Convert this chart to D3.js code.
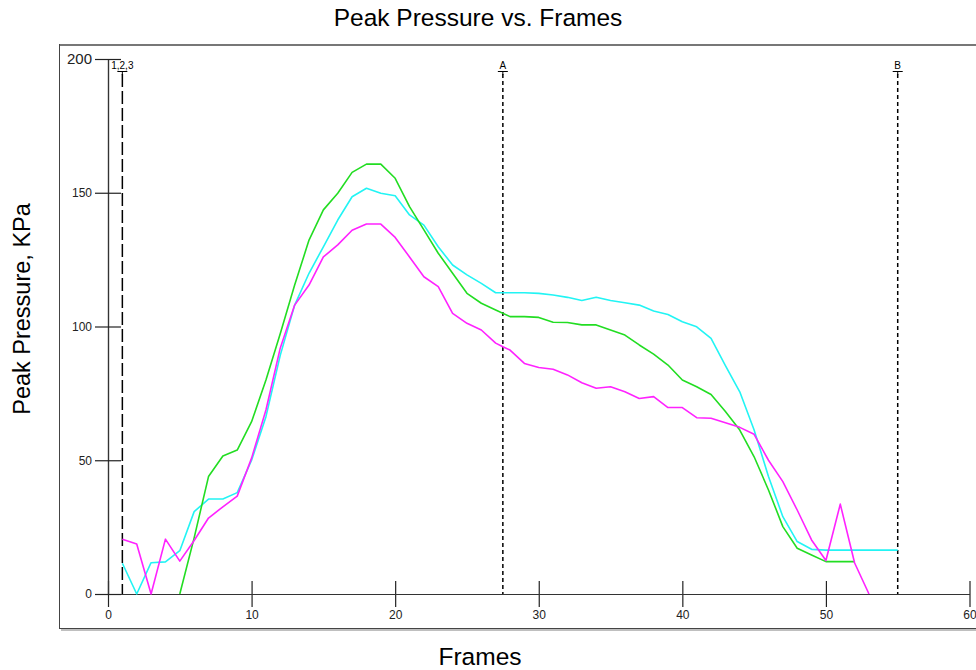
<!DOCTYPE html>
<html>
<head>
<meta charset="utf-8">
<script src="https://cdn.jsdelivr.net/npm/d3@7/dist/d3.min.js"></script>
<style>
  html, body { margin: 0; padding: 0; background: #fff; }
  svg { display: block; font-family: "Liberation Sans", Arial, sans-serif; }
</style>
</head>
<body>
<svg id="chart" width="976" height="670"></svg>
<script>
// ---------- data ----------
const title = "Peak Pressure vs. Frames";
const xLabel = "Frames";
const yLabel = "Peak Pressure, KPa";
const xTicks = [0, 10, 20, 30, 40, 50, 60];
const yTicks = [0, 50, 100, 150, 200];

const magentaFrames = [1,2,3,4,5,6,7,8,9,10,11,12,13,14,15,16,17,18,19,20,21,22,23,24,25,26,27,27.5,28,29,30,31,32,33,34,35,36,37,38,39,40,41,42,43,44,45,46,47,48,49,50,51,52,53];
const magentaValues = [20.5,18.7,0,20.5,12.3,20,28.4,32.6,36.6,50.8,68.8,92,108,115.5,126,130.5,136,138.3,138.3,133.3,126,118.6,114.9,104.9,101.2,98.7,93.8,92.4,91.2,86.2,84.7,84,81.9,79,76.9,77.5,75.6,73.1,73.8,69.7,69.7,65.9,65.7,64,62.3,59.7,50,42,31.4,20.2,12.5,33.6,11.6,0];

const cyanFrames = [1,2,3,4,5,6,7,8,9,10,11,12,13,14,15,16,17,18,19,20,21,22,23,24,25,26,27,28,29,30,31,32,33,34,35,36,37,38,39,40,41,42,43,44,45,46,47,48,49,50,51,52,53,54,55];
const cyanValues = [11.5,0,11.7,12,16.2,30.8,35.5,35.5,37.9,50,66.3,89.3,108,119.9,129.8,139.8,148.5,151.7,149.8,148.9,141.7,137.9,129.8,123,119.3,116.1,112.6,112.6,112.6,112.4,111.8,110.9,109.7,110.9,109.7,108.9,108,105.8,104.5,101.8,99.9,95.6,85.4,75.6,61.3,43.9,28.9,19.6,16.7,16.4,16.4,16.4,16.4,16.4,16.4];

const greenFrames = [5,6,7,8,9,10,11,12,13,14,15,16,17,18,19,20,21,22,23,24,25,26,27,28,29,30,31,32,33,34,35,36,37,38,39,40,41,42,43,44,45,46,47,48,49,50,51,52];
const greenValues = [0,21,43.9,51.6,53.8,64.4,80,97.4,115.5,132.3,143.6,149.8,157.6,160.7,160.7,155.4,144.8,136.1,127.4,119.9,112.4,108.7,106.2,103.7,103.7,103.4,101.6,101.5,100.6,100.6,98.7,96.8,93.1,89.7,85.6,80,77.5,74.6,68.2,61.3,51.3,38.9,25.2,17.1,14.6,12.1,12.1,12.1];

const markerNames = ["1,2,3", "A", "B"];
const markerFrames = [1, 27.5, 55];
const markerDash = ["13,4", "4,3", "4,3"];

const seriesNames = ["Cyan", "Green", "Magenta"];
const seriesColors = ["#22f4f4", "#22dd22", "#ff22ff"];

// ---------- setup ----------
const svg = d3.select("#chart");
const x = d3.scaleLinear().domain([0, 60]).range([108, 969.5]);
const y = d3.scaleLinear().domain([0, 200]).range([594, 59]);

// frame
svg.append("line").attr("x1", 59).attr("x2", 976).attr("y1", 45).attr("y2", 45)
  .attr("stroke", "#777").attr("stroke-width", 2);
svg.append("line").attr("x1", 59.5).attr("x2", 59.5).attr("y1", 44).attr("y2", 628.5)
  .attr("stroke", "#444").attr("stroke-width", 1);
svg.append("line").attr("x1", 59).attr("x2", 976).attr("y1", 628.5).attr("y2", 628.5)
  .attr("stroke", "#444").attr("stroke-width", 1);
svg.append("line").attr("x1", 61).attr("x2", 976).attr("y1", 630).attr("y2", 630)
  .attr("stroke", "#aaa").attr("stroke-width", 1.5);

// title & labels
svg.append("text").attr("x", 478).attr("y", 26).attr("text-anchor", "middle")
  .attr("font-size", 24.5).attr("fill", "#000").text(title);
svg.append("text").attr("x", 480).attr("y", 665).attr("text-anchor", "middle")
  .attr("font-size", 24.5).attr("fill", "#000").text(xLabel);
svg.append("text").attr("transform", "translate(30,309) rotate(-90)").attr("text-anchor", "middle")
  .attr("font-size", 23.5).attr("fill", "#000").text(yLabel);

// x axis (crossing ticks)
const gx = svg.append("g").attr("transform", `translate(0,${y(0)})`)
  .call(d3.axisBottom(x).tickValues(xTicks).tickFormat(d3.format("d")).tickSizeOuter(0).tickSizeInner(13).tickPadding(3));
svg.append("g").attr("transform", `translate(0,${y(0)})`)
  .call(d3.axisTop(x).tickValues(xTicks).tickFormat("").tickSizeOuter(0).tickSizeInner(13));

// y axis (crossing ticks)
const gy = svg.append("g").attr("transform", `translate(${x(0)},0)`)
  .call(d3.axisLeft(y).tickValues(yTicks).tickFormat(d3.format("d")).tickSizeOuter(0).tickSizeInner(13).tickPadding(3));
svg.append("g").attr("transform", `translate(${x(0)},0)`)
  .call(d3.axisRight(y).tickValues(yTicks).tickFormat("").tickSizeOuter(0).tickSizeInner(13));

svg.selectAll(".domain").attr("stroke", "#333").attr("stroke-width", 1.2);
svg.selectAll(".tick line").attr("stroke", "#222").attr("stroke-width", 1.2);
svg.selectAll(".tick text").attr("font-size", 12).attr("fill", "#222")
  .attr("font-family", "'Liberation Sans', Arial, sans-serif");
gy.selectAll(".tick text").filter(d => d === 200).attr("font-size", 15);

// marker lines
markerFrames.forEach((f, i) => {
  const mx = x(f);
  svg.append("line").attr("x1", mx).attr("x2", mx).attr("y1", 74).attr("y2", y(0))
    .attr("stroke", "#000").attr("stroke-width", 1.5).attr("stroke-dasharray", markerDash[i]);
  svg.append("line").attr("x1", mx - 5).attr("x2", mx + 5).attr("y1", 71.5).attr("y2", 71.5)
    .attr("stroke", "#000").attr("stroke-width", 1);
  svg.append("line").attr("x1", mx).attr("x2", mx).attr("y1", 71.5).attr("y2", 75)
    .attr("stroke", "#000").attr("stroke-width", 1);
  svg.append("text").attr("x", mx).attr("y", 69).attr("text-anchor", "middle")
    .attr("font-size", 10).attr("fill", "#000").text(markerNames[i]);
});

// series
const series = [
  { frames: cyanFrames, values: cyanValues },
  { frames: greenFrames, values: greenValues },
  { frames: magentaFrames, values: magentaValues }
];
const line = d3.line().x(d => x(d[0])).y(d => y(d[1]));
series.forEach((s, i) => {
  const pts = s.frames.map((f, j) => [f, s.values[j]]);
  svg.append("path").datum(pts).attr("d", line)
    .attr("fill", "none").attr("stroke", seriesColors[i]).attr("stroke-width", 1.6)
    .attr("stroke-linejoin", "round").attr("data-name", seriesNames[i]);
});
</script>
</body>
</html>
